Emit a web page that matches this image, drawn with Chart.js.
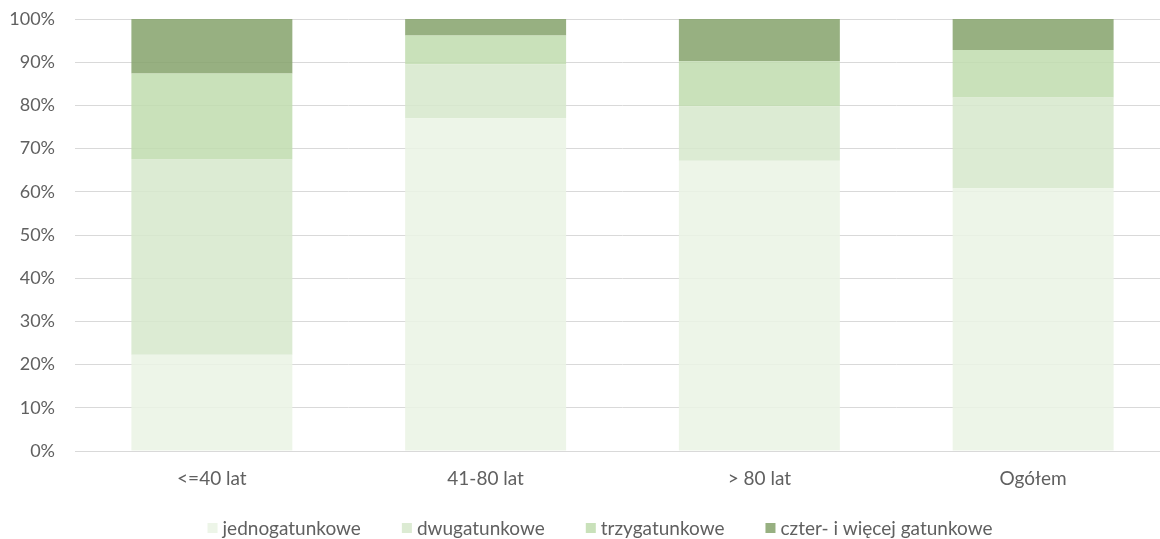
<!DOCTYPE html>
<html>
<head>
<meta charset="utf-8">
<script src="https://cdn.jsdelivr.net/npm/chart.js@4"></script>
<style>
  html, body { margin: 0; padding: 0; background: #fff; overflow: hidden; }
  #wrap { width: 1170px; height: 539px; }
</style>
</head>
<body>
<div id="wrap"><canvas id="myBarChart"></canvas></div>
<script>
// kategorie wiekowe
const categories = ['<=40 lat', '41-80 lat', '> 80 lat', 'Ogółem'];
// udział (%) drzewostanów wg liczby gatunków
const jednogatunkowe = [22.3, 77.0, 67.2, 60.8];
const dwugatunkowe = [45.2, 12.5, 12.6, 21.0];
const trzygatunkowe = [19.9, 6.7, 10.4, 11.0];
const czterGatunkowe = [12.6, 3.8, 9.8, 7.2];
const seriesNames = ['jednogatunkowe', 'dwugatunkowe', 'trzygatunkowe', 'czter- i więcej gatunkowe'];
const yTicks = [0, 10, 20, 30, 40, 50, 60, 70, 80, 90, 100];

const colors = [
    'rgba(234, 243, 228, 0.85)',
    'rgba(214, 231, 203, 0.85)',
    'rgba(191, 220, 174, 0.85)',
    'rgba(133, 162, 107, 0.85)'
];
const textColor = '#606060';
const fontFamily = 'Lato, "Open Sans", sans-serif';

const seriesValues = [jednogatunkowe, dwugatunkowe, trzygatunkowe, czterGatunkowe];

// legenda rysowana ręcznie pod osią X (jak w Excelu)
const bottomLegendPlugin = {
    id: 'bottomLegend',
    afterDraw: (chart) => {
        const { ctx } = chart;
        const datasets = chart.data.datasets;
        const box = 10, gap = 5, spacing = 41;
        const centerX = 600, centerY = 528;

        ctx.save();
        ctx.font = '19px ' + fontFamily;
        ctx.textBaseline = 'middle';
        ctx.textAlign = 'left';
        const widths = datasets.map(ds => ctx.measureText(ds.label).width);
        let total = 0;
        widths.forEach((w, i) => { total += box + gap + w + (i < widths.length - 1 ? spacing : 0); });

        let x = centerX - total / 2;
        datasets.forEach((ds, i) => {
            ctx.fillStyle = ds.backgroundColor;
            ctx.fillRect(x, centerY - box / 2, box, box);
            ctx.fillStyle = textColor;
            ctx.fillText(ds.label, x + box + gap, centerY + 1);
            x += box + gap + widths[i] + spacing;
        });
        ctx.restore();
    }
};

const data = {
    labels: categories,
    datasets: seriesValues.map((vals, i) => ({
        label: seriesNames[i],
        data: vals,
        backgroundColor: colors[i],
        borderWidth: 0,
        categoryPercentage: 1.0,
        barPercentage: 0.588,
        stack: 's1'
    }))
};

const options = {
    responsive: true,
    maintainAspectRatio: false,
    animation: false,
    layout: { padding: { top: 19, right: 0, bottom: 33.2, left: 0 } },
    scales: {
        x: {
            stacked: true,
            grid: { display: false, drawTicks: false },
            border: { display: true, color: '#d9d9d9', width: 1 },
            ticks: { color: textColor, font: { family: fontFamily, size: 19 }, padding: 16 }
        },
        y: {
            stacked: true,
            min: 0,
            max: 100,
            afterFit: (scale) => { scale.width = 75; scale.paddingTop = 0; scale.paddingBottom = 0; },
            afterBuildTicks: (scale) => { scale.ticks = yTicks.map(v => ({ value: v })); },
            grid: { color: '#d9d9d9', lineWidth: 1, drawTicks: false },
            border: { display: false },
            ticks: {
                color: textColor,
                font: { family: fontFamily, size: 18 },
                padding: 20,
                callback: (v) => v + '%'
            }
        }
    },
    plugins: {
        legend: { display: false },
        tooltip: { enabled: false }
    }
};

new Chart(document.getElementById('myBarChart').getContext('2d'), {
    type: 'bar',
    data: data,
    options: options,
    plugins: [bottomLegendPlugin]
});
</script>
</body>
</html>
